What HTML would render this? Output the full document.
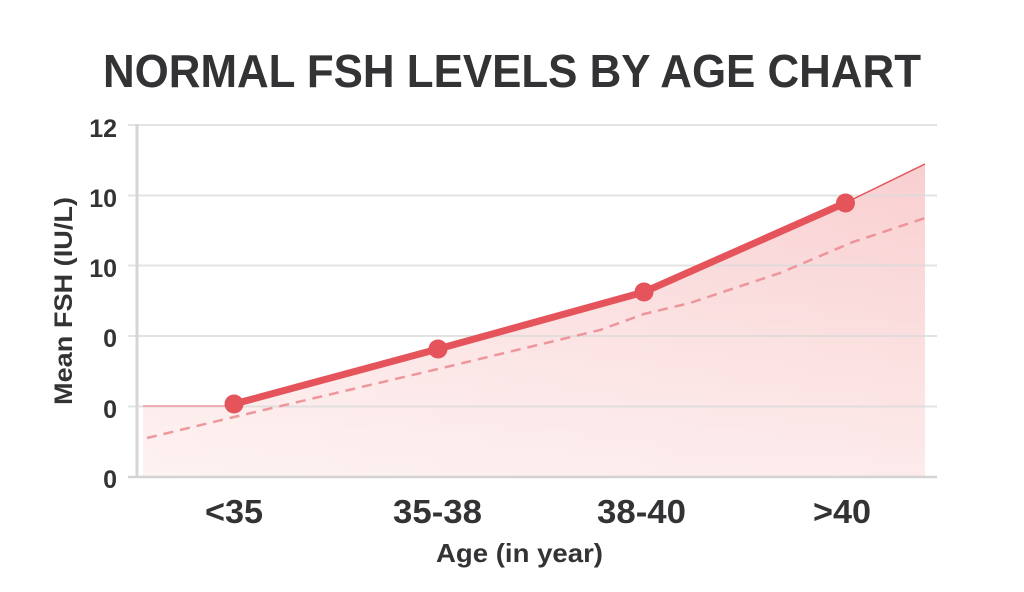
<!DOCTYPE html>
<html>
<head>
<meta charset="utf-8">
<style>
  html, body { margin: 0; padding: 0; background: #ffffff; }
  body { width: 1024px; height: 592px; overflow: hidden; }
  svg { display: block; }
  text { font-family: "Liberation Sans", "DejaVu Sans", sans-serif; font-weight: bold; fill: #333336; }
</style>
</head>
<body>
<svg width="1024" height="592" viewBox="0 0 1024 592" xmlns="http://www.w3.org/2000/svg">
  <defs>
    <linearGradient id="fillV" x1="0" y1="0" x2="0" y2="1">
      <stop offset="0" stop-color="#f9cfd0"/>
      <stop offset="1" stop-color="#fdebeb"/>
    </linearGradient>
    <linearGradient id="fillH" x1="0" y1="0" x2="1" y2="0">
      <stop offset="0" stop-color="#ffffff" stop-opacity="0.35"/>
      <stop offset="1" stop-color="#ffffff" stop-opacity="0"/>
    </linearGradient>
  </defs>

  <!-- Title -->
  <text x="512" y="87" font-size="46" text-anchor="middle" textLength="818" lengthAdjust="spacingAndGlyphs">NORMAL FSH LEVELS BY AGE CHART</text>

  <!-- Fill area -->
  <polygon points="143,406 234,406 234,404 438,349 644,292 845,203 925,164 925,477 143,477" fill="url(#fillV)"/>
  <polygon points="143,406 234,406 234,404 438,349 644,292 845,203 925,164 925,477 143,477" fill="url(#fillH)"/>

  <!-- Gridlines -->
  <g stroke="#d9d9d9" stroke-opacity="0.75" stroke-width="2">
    <line x1="128" y1="125" x2="937" y2="125"/>
    <line x1="128" y1="195.5" x2="937" y2="195.5"/>
    <line x1="128" y1="265.5" x2="937" y2="265.5"/>
    <line x1="128" y1="336" x2="937" y2="336"/>
    <line x1="128" y1="406.5" x2="937" y2="406.5"/>
  </g>
  <!-- Axes -->
  <line x1="137" y1="124" x2="137" y2="478" stroke="#d6d6d6" stroke-width="3"/>
  <line x1="128" y1="477" x2="937" y2="477" stroke="#d3d3d3" stroke-width="2.5"/>

  <!-- Thin line segments of fill top -->
  <polyline points="143,406 234,406" fill="none" stroke="#ee9a9d" stroke-width="1.5"/>
  <polyline points="845,203 925,164" fill="none" stroke="#e5535b" stroke-width="1.5"/>

  <!-- Dashed series -->
  <polyline points="147,438 234,417 438,369 600,330 644,314 690,303 780,273 853,242 925,218" fill="none" stroke="#ec8d93" stroke-width="2.5" stroke-dasharray="10,7" stroke-opacity="0.9"/>

  <!-- Main series -->
  <polyline points="234,404 438,349 644,292 845,203" fill="none" stroke="#e5535b" stroke-width="7" stroke-linejoin="round" stroke-linecap="round"/>
  <g fill="#e5535b">
    <circle cx="234" cy="404" r="9.5"/>
    <circle cx="438" cy="349" r="9.5"/>
    <circle cx="644" cy="292" r="9.5"/>
    <circle cx="845.5" cy="203" r="9.5"/>
  </g>

  <!-- Y tick labels -->
  <g font-size="25" text-anchor="end">
    <text x="117" y="137">12</text>
    <text x="117" y="207">10</text>
    <text x="117" y="277">10</text>
    <text x="117" y="347">0</text>
    <text x="117" y="418">0</text>
    <text x="117" y="488">0</text>
  </g>

  <!-- Y axis title -->
  <text transform="translate(72,301) rotate(-90)" font-size="25" text-anchor="middle" textLength="208" lengthAdjust="spacingAndGlyphs">Mean FSH (IU/L)</text>

  <!-- X tick labels -->
  <g font-size="33" text-anchor="middle">
    <text x="234" y="523" textLength="58" lengthAdjust="spacingAndGlyphs">&lt;35</text>
    <text x="437.5" y="523" textLength="89" lengthAdjust="spacingAndGlyphs">35-38</text>
    <text x="641.5" y="523" textLength="89" lengthAdjust="spacingAndGlyphs">38-40</text>
    <text x="842" y="523" textLength="58" lengthAdjust="spacingAndGlyphs">&gt;40</text>
  </g>

  <!-- X axis title -->
  <text x="519.5" y="562" font-size="26" text-anchor="middle" textLength="167" lengthAdjust="spacingAndGlyphs">Age (in year)</text>
</svg>
</body>
</html>
